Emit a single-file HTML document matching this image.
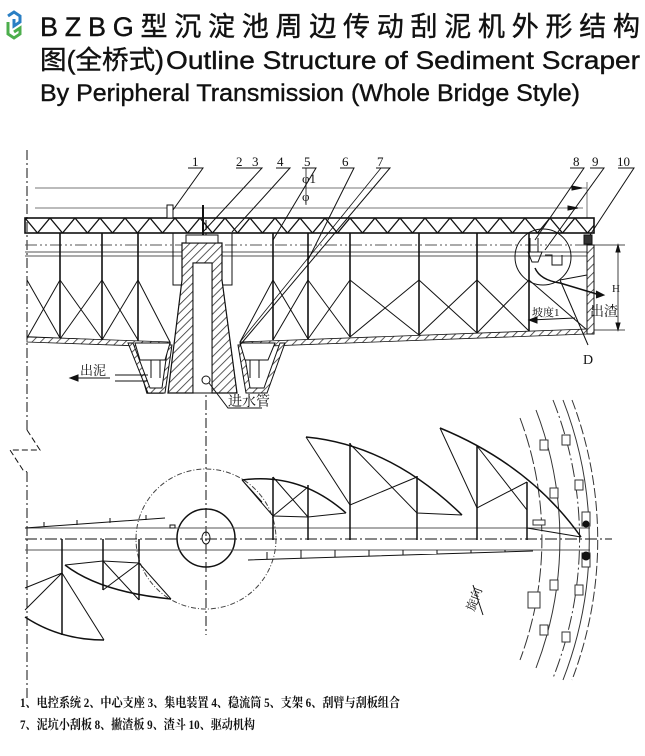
<!DOCTYPE html>
<html><head><meta charset="utf-8"><style>
html,body{margin:0;padding:0;background:#fff;}
svg{display:block;}
.t{font-family:"Liberation Serif","Noto Serif CJK SC",serif;fill:#111;}
</style></head><body>
<svg width="645" height="756" viewBox="0 0 645 756" xmlns="http://www.w3.org/2000/svg">
<defs>
<pattern id="zz" x="25" y="218" width="25" height="15" patternUnits="userSpaceOnUse">
<path d="M0,0 L12.5,15 L25,0" fill="none" stroke="#111" stroke-width="1.3"/>
</pattern>
<pattern id="hh" width="6" height="6" patternUnits="userSpaceOnUse" patternTransform="rotate(45)">
<rect width="6" height="6" fill="#fff"/><line x1="0" y1="0" x2="0" y2="6" stroke="#333" stroke-width="1.6"/>
</pattern>
</defs>

<!-- logo -->
<path d="M8,16 L14,12 L20,16 L20,22 L14,26 L14,19" fill="none" stroke="#2a7fc4" stroke-width="3"/>
<path d="M8,22 L8,34 L14,38 L20,34 L20,28 L14,32" fill="none" stroke="#4cae4c" stroke-width="3"/>

<!-- title -->
<g stroke="#111" stroke-width="0.4">
<text x="40" y="36" font-family="'Liberation Sans','Noto Sans CJK SC',sans-serif" font-size="27" fill="#111" textLength="600" lengthAdjust="spacing">BZBG型沉淀池周边传动刮泥机外形结构</text>
<text x="40" y="69" font-family="'Liberation Sans','Noto Sans CJK SC',sans-serif" font-size="26" fill="#111" textLength="124" lengthAdjust="spacingAndGlyphs">图(全桥式)</text>
<text x="166" y="69" font-family="'Liberation Sans',sans-serif" font-size="25" fill="#111" textLength="474" lengthAdjust="spacingAndGlyphs">Outline Structure of Sediment Scraper</text>
<text x="40" y="101" font-family="'Liberation Sans',sans-serif" font-size="24" fill="#111" textLength="540" lengthAdjust="spacingAndGlyphs">By Peripheral Transmission (Whole Bridge Style)</text>
</g>

<g stroke="#111" fill="none" stroke-width="1">
<!-- ===== elevation ===== -->
<line x1="27" y1="150" x2="27" y2="430" stroke-dasharray="10,3,2,3"/>
<line x1="27" y1="472" x2="27" y2="700" stroke-dasharray="10,3,2,3"/>
<line x1="206" y1="220" x2="206" y2="410" stroke-dasharray="10,3,2,3"/>
<!-- dimension lines -->
<line x1="35" y1="188" x2="587" y2="188" stroke="#777"/>
<line x1="35" y1="208" x2="583" y2="208" stroke="#777"/>
<line x1="587" y1="182" x2="587" y2="218" stroke="#777"/>
<path d="M572,186 L582,188 L572,190Z M568,206 L578,208 L568,210Z" fill="#111"/>
<line x1="306" y1="168" x2="306" y2="205" stroke-width="0.8"/>
<!-- truss -->
<rect x="25" y="218" width="569" height="15" fill="url(#zz)" stroke-width="1.6"/>
<line x1="25" y1="245" x2="594" y2="245" stroke-dasharray="12,3,2,3,2,3" stroke="#555"/>
<line x1="25" y1="252" x2="594" y2="252" stroke="#555"/>
<line x1="25" y1="256" x2="185" y2="256" stroke="#555"/>
<line x1="222" y1="256" x2="594" y2="256" stroke="#555"/>
<rect x="167" y="205" width="6" height="13" fill="#fff"/>
<!-- posts -->
<g stroke-width="1.6">
<line x1="60" y1="233" x2="60" y2="340"/><line x1="102" y1="233" x2="102" y2="341"/><line x1="138" y1="233" x2="138" y2="342"/>
<line x1="273" y1="233" x2="273" y2="340"/><line x1="308" y1="233" x2="308" y2="339"/><line x1="350" y1="233" x2="350" y2="337"/>
<line x1="419" y1="233" x2="419" y2="335"/><line x1="477" y1="233" x2="477" y2="333"/><line x1="529" y1="233" x2="529" y2="331"/>
</g>
<!-- bracing -->
<path d="M27,280 L60,338 M60,280 L27,338 M60,280 L102,339 M102,280 L60,339 M102,280 L138,340 M138,280 L102,340 M138,280 L170,342"/>
<path d="M240,342 L273,280 M273,280 L308,339 M308,280 L273,340 M308,280 L350,337 M350,280 L308,339 M350,280 L419,335 M419,280 L350,337 M419,280 L477,333 M477,280 L419,335 M477,280 L529,331 M529,280 L477,333 M529,280 L587,330"/>
<line x1="240" y1="342" x2="381" y2="168" stroke-width="0.8"/>
<path d="M173,233 L173,285 L182,285 M232,233 L232,285 L222,285"/>
<!-- floor -->
<path d="M27,337 L170,343 L163,393 L147,393 L133,343" stroke-width="1.4"/>
<path d="M27,337 L170,342 L168,347 L27,342Z" fill="url(#hh)" stroke-width="0.8"/>
<path d="M240,342 L587,329 L587,334 L242,347Z" fill="url(#hh)" stroke-width="0.8"/>
<!-- hoppers -->
<path d="M128,343 L148,393 L165,393 L172,345 L168,345 L162,388 L150,388 L133,343Z" fill="url(#hh)"/>
<path d="M238,345 L246,393 L267,393 L285,343 L280,343 L264,388 L250,388 L243,345Z" fill="url(#hh)"/>
<path d="M135,343 L170,343 L165,360 L140,360Z M240,343 L275,343 L268,360 L245,360Z" fill="#fff"/>
<path d="M151,360 L151,378 M160,360 L160,378 M250,360 L250,378 M259,360 L259,378"/>
<!-- central column -->
<path d="M182,243 L222,243 L222,280 L237,393 L212,393 L212,263 L193,263 L193,393 L168,393 L182,280Z" fill="url(#hh)" stroke-width="1.2"/>
<rect x="193" y="263" width="19" height="130" fill="#fff"/>
<rect x="186" y="235" width="32" height="8" fill="#fff"/>
<line x1="203" y1="205" x2="203" y2="235" stroke-width="2"/>
<circle cx="206" cy="380" r="4"/>
<!-- right wall -->
<path d="M587,245 L594,245 L594,334 L587,334Z" fill="url(#hh)"/>
<rect x="584" y="235" width="8" height="9" fill="#333"/>
<!-- circle D and slag -->
<circle cx="543" cy="257" r="28"/>
<path d="M530,238 L530,252 M538,238 L538,252 M528,252 L542,252 L538,262 L532,262Z"/>
<path d="M545,255 L552,255 L552,265 L562,265 L562,255"/>
<path d="M535,268 Q540,280 560,283 L600,295" stroke-width="1.5"/>
<path d="M596,291 L604,295 L596,298" fill="#111"/>
<line x1="560" y1="280" x2="587" y2="275"/>
<!-- H dim -->
<line x1="594" y1="245" x2="625" y2="245" stroke-width="0.8"/>
<line x1="594" y1="330" x2="625" y2="330" stroke-width="0.8"/>
<line x1="618" y1="245" x2="618" y2="330" stroke-width="0.8"/>
<path d="M616,252 L618,245 L620,252Z M616,323 L618,330 L620,323Z" fill="#111"/>
<line x1="530" y1="320" x2="575" y2="318"/>
<path d="M537,317 L529,320 L537,323Z" fill="#111"/>
<!-- leaders -->
<path d="M188,168 L203,168 L173,210 M236,168 L262,168 L203,232 M276,168 L290,168 L232,232 M302,168 L316,168 L273,240 M340,168 L354,168 L308,260 M376,168 L390,168 L240,345 M570,168 L584,168 L535,240 M590,168 L604,168 L545,250 M618,168 L634,168 L590,235"/>
<path d="M560,280 L588,345"/>
<path d="M115,375 L148,375 M115,381 L148,381"/>
<line x1="72" y1="378" x2="110" y2="378"/>
<path d="M78,375 L70,378 L78,381Z" fill="#111"/>
<path d="M209,383 L228,408 L262,408"/>

<!-- ===== plan view ===== -->
<path d="M27,430 L40,450 L10,450 L23,470 L27,472" stroke-dasharray="6,3"/>
<line x1="206" y1="400" x2="206" y2="635" stroke-dasharray="10,3,2,3"/>
<circle cx="206" cy="539" r="70" stroke-dasharray="5,2,1,2" stroke="#444"/>
<circle cx="206" cy="538" r="29" stroke-width="1.5"/>
<ellipse cx="206" cy="538" rx="4" ry="6"/>
<line x1="25" y1="528" x2="590" y2="528" stroke="#555"/>
<line x1="25" y1="550" x2="590" y2="550" stroke="#555"/>
<line x1="25" y1="539" x2="612" y2="539" stroke-dasharray="12,3,2,3"/>
<g stroke="#333">
<path d="M520,418 A345,345 0 0 1 520,660" stroke-dasharray="14,3"/>
<path d="M536,410 A360,360 0 0 1 536,668"/>
<path d="M553,400 A377,377 0 0 1 553,678" stroke-dasharray="14,3,2,3"/>
<path d="M563,400 A386,386 0 0 1 563,680"/>
<path d="M572,400 A394,394 0 0 1 572,680" stroke-dasharray="10,3"/>
</g>
<g fill="#fff" stroke="#333">
<rect x="540" y="440" width="8" height="10"/><rect x="562" y="435" width="8" height="10"/>
<rect x="550" y="488" width="8" height="10"/><rect x="575" y="480" width="8" height="10"/>
<rect x="550" y="580" width="8" height="10"/><rect x="575" y="585" width="8" height="10"/>
<rect x="540" y="625" width="8" height="10"/><rect x="562" y="632" width="8" height="10"/>
<rect x="528" y="592" width="12" height="16"/>
<rect x="582" y="512" width="8" height="14"/><rect x="582" y="553" width="8" height="14"/>
<rect x="533" y="520" width="12" height="5"/>
</g>
<circle cx="586" cy="524" r="3" fill="#111"/><circle cx="586" cy="556" r="4" fill="#111"/>
<g stroke-width="1.5">
<path d="M242,480 Q300,472 346,513"/>
<path d="M306,437 Q390,445 462,515"/>
<path d="M440,428 Q530,465 581,537"/>
<line x1="273" y1="477" x2="273" y2="540"/><line x1="308" y1="485" x2="308" y2="540"/>
<line x1="350" y1="443" x2="350" y2="540"/><line x1="417" y1="476" x2="417" y2="540"/>
<line x1="477" y1="446" x2="477" y2="540"/><line x1="527" y1="482" x2="527" y2="540"/>
</g>
<path d="M242,480 L273,516 L308,517 L346,513 M273,477 L308,517 M308,487 L273,516 M242,480 L262,502"/>
<path d="M306,437 L350,505 L417,477 M350,444 L417,513 L462,515"/>
<path d="M440,428 L477,508 L527,482 M477,446 L527,510 M527,528 L581,537"/>
<path d="M25,528 L165,518 M44,527 L44,522 M77,525 L77,520 M110,523 L110,518 M146,520 L146,515"/>
<path d="M248,560 L533,551 M267,560 L267,552 M301,558 L301,550 M335,557 L335,550 M369,556 L369,550 M403,555 L403,550 M437,554 L437,550 M471,553 L471,550 M505,552 L505,550"/>
<rect x="170" y="525" width="5" height="3"/>
<g stroke-width="1.5">
<path d="M65,565 Q100,592 171,599"/>
<path d="M25,617 Q60,640 104,640"/>
<line x1="62" y1="539" x2="62" y2="635"/><line x1="103" y1="539" x2="103" y2="590"/><line x1="139" y1="539" x2="139" y2="600"/>
</g>
<path d="M65,565 L103,561 L139,563 L171,599 M103,561 L139,600 M103,590 L139,563 M25,588 L62,573 L104,640 M62,573 L25,610"/>
<line x1="473" y1="585" x2="483" y2="615"/>
</g>

<g class="t" font-size="13">
<text x="192" y="166">1</text><text x="236" y="166">2</text><text x="252" y="166">3</text>
<text x="277" y="166">4</text><text x="304" y="166">5</text><text x="342" y="166">6</text>
<text x="377" y="166">7</text><text x="573" y="166">8</text><text x="592" y="166">9</text>
<text x="617" y="166">10</text>
<text x="302" y="183">φ1</text><text x="302" y="201">φ</text>
<text x="590" y="316" font-size="14">出渣</text>
<text x="532" y="316" font-size="11">坡度1</text>
<text x="583" y="364" font-size="14">D</text>
<text x="612" y="292" font-size="11">H</text>
<text x="80" y="375" font-size="13">出泥</text>
<text x="228" y="406" font-size="14">进水管</text>
<text x="0" y="0" font-size="12" transform="translate(474,612) rotate(-70)">旋向</text>
<text x="20" y="707" font-size="13" font-weight="bold" textLength="380" lengthAdjust="spacingAndGlyphs">1、电控系统 2、中心支座 3、集电装置 4、稳流筒 5、支架 6、刮臂与刮板组合</text>
<text x="20" y="729" font-size="13" font-weight="bold" textLength="235" lengthAdjust="spacingAndGlyphs">7、泥坑小刮板 8、撇渣板 9、渣斗 10、驱动机构</text>
</g>
</svg>
</body></html>
